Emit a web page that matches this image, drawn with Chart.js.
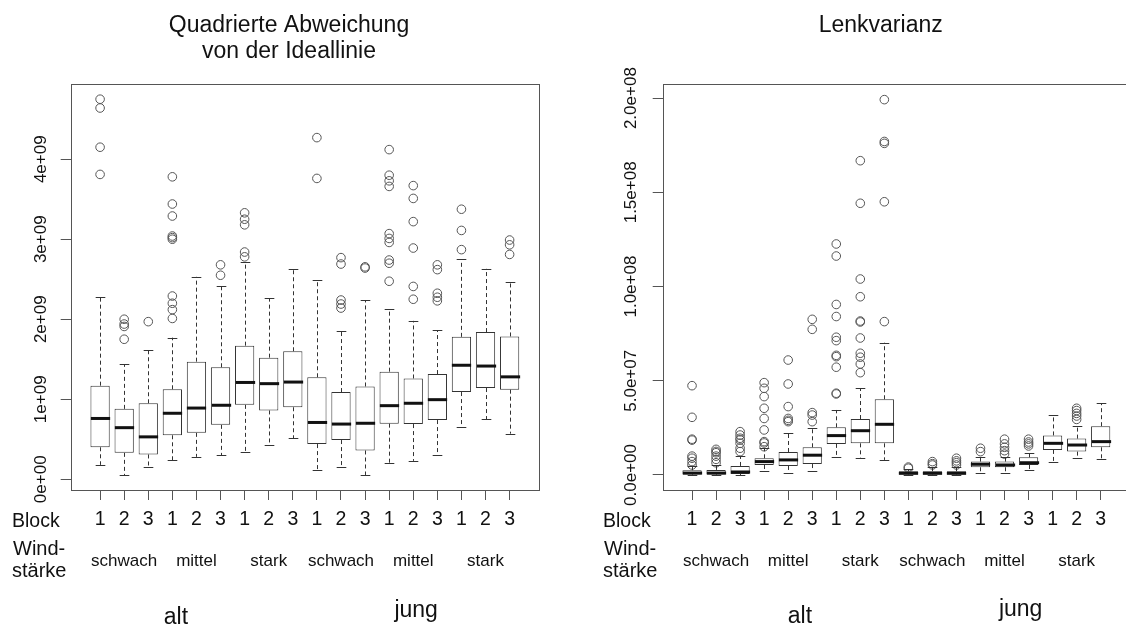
<!DOCTYPE html>
<html>
<head>
<meta charset="utf-8">
<script src="https://cdn.jsdelivr.net/npm/chart.js@4.4.1/dist/chart.umd.min.js"></script>
<style>
  html, body { margin: 0; padding: 0; background: #fff; overflow: hidden; }
  body { width: 1126px; height: 626px; position: relative; }
  canvas { position: absolute; top: 0; }
  #devChart { left: 0; }
  #varChart { left: 560px; }
</style>
</head>
<body>
<canvas id="devChart" width="560" height="626"></canvas>
<canvas id="varChart" width="590" height="626"></canvas>
<script>
const blockLabels = ['1', '2', '3', '1', '2', '3', '1', '2', '3', '1', '2', '3', '1', '2', '3', '1', '2', '3'];
const windLabels = ['schwach', 'mittel', 'stark', 'schwach', 'mittel', 'stark'];
const ageLabels = ['alt', 'jung'];

// Quadrierte Abweichung von der Ideallinie
const devLow = [0.18e9, 0.05e9, 0.15e9, 0.24e9, 0.28e9, 0.30e9, 0.345e9, 0.43e9, 0.51e9,
  0.11e9, 0.15e9, 0.054e9, 0.20e9, 0.23e9, 0.30e9, 0.65e9, 0.75e9, 0.57e9];
const devQ1 = [0.40e9, 0.33e9, 0.31e9, 0.55e9, 0.58e9, 0.68e9, 0.93e9, 0.86e9, 0.90e9,
  0.44e9, 0.49e9, 0.36e9, 0.695e9, 0.69e9, 0.74e9, 1.09e9, 1.14e9, 1.12e9];
const devMed = [0.76e9, 0.645e9, 0.53e9, 0.825e9, 0.89e9, 0.925e9, 1.21e9, 1.195e9, 1.215e9,
  0.71e9, 0.69e9, 0.70e9, 0.92e9, 0.95e9, 0.995e9, 1.425e9, 1.415e9, 1.28e9];
const devQ3 = [1.17e9, 0.88e9, 0.95e9, 1.125e9, 1.47e9, 1.40e9, 1.67e9, 1.52e9, 1.60e9,
  1.275e9, 1.09e9, 1.16e9, 1.345e9, 1.26e9, 1.315e9, 1.78e9, 1.84e9, 1.785e9];
const devHigh = [2.28e9, 1.44e9, 1.62e9, 1.77e9, 2.53e9, 2.42e9, 2.71e9, 2.26e9, 2.63e9,
  2.49e9, 1.85e9, 2.24e9, 2.125e9, 1.98e9, 1.86e9, 2.75e9, 2.63e9, 2.46e9];
const devOut = [
  [4.75e9, 4.64e9, 4.15e9, 3.81e9],
  [2.0e9, 1.94e9, 1.91e9, 1.75e9],
  [1.97e9],
  [3.78e9, 3.44e9, 3.29e9, 3.04e9, 3.02e9, 3.0e9, 2.29e9, 2.2e9, 2.12e9, 2.01e9],
  [],
  [2.68e9, 2.55e9],
  [3.33e9, 3.25e9, 3.18e9, 2.84e9, 2.78e9],
  [],
  [],
  [4.27e9, 3.76e9],
  [2.77e9, 2.69e9, 2.24e9, 2.19e9, 2.14e9],
  [2.655e9, 2.64e9],
  [4.12e9, 3.80e9, 3.73e9, 3.66e9, 3.07e9, 3.01e9, 2.96e9, 2.74e9, 2.70e9, 2.475e9],
  [3.67e9, 3.51e9, 3.22e9, 2.89e9, 2.41e9, 2.25e9],
  [2.68e9, 2.62e9, 2.325e9, 2.275e9, 2.23e9],
  [3.375e9, 3.11e9, 2.87e9],
  [],
  [2.99e9, 2.93e9, 2.81e9]
];
const devTicks = [0, 1e9, 2e9, 3e9, 4e9];
const devTickLabels = ['0e+00', '1e+09', '2e+09', '3e+09', '4e+09'];

// Lenkvarianz
const varLow = [0, 0, 0, 0.23e7, 0.12e7, 0.23e7, 0.94e7, 0.92e7, 0.8e7,
  0, 0, 0, 0.09e7, 0.09e7, 0.27e7, 0.71e7, 0.92e7, 0.83e7];
const varQ1 = [0.03e7, 0.03e7, 0.05e7, 0.53e7, 0.48e7, 0.58e7, 1.65e7, 1.68e7, 1.68e7,
  0.02e7, 0.02e7, 0.02e7, 0.41e7, 0.41e7, 0.53e7, 1.33e7, 1.24e7, 1.47e7];
const varMed = [0.1e7, 0.1e7, 0.16e7, 0.71e7, 0.80e7, 1.05e7, 2.09e7, 2.35e7, 2.69e7,
  0.09e7, 0.09e7, 0.09e7, 0.57e7, 0.53e7, 0.65e7, 1.68e7, 1.59e7, 1.77e7];
const varQ3 = [0.25e7, 0.27e7, 0.48e7, 0.886e7, 1.22e7, 1.47e7, 2.53e7, 2.97e7, 4.02e7,
  0.2e7, 0.2e7, 0.2e7, 0.71e7, 0.71e7, 0.94e7, 2.1e7, 1.93e7, 2.59e7];
const varHigh = [0.5e7, 0.55e7, 1.0e7, 1.42e7, 2.21e7, 2.48e7, 3.45e7, 4.6e7, 7.02e7,
  0.3e7, 0.4e7, 0.4e7, 0.97e7, 0.97e7, 1.15e7, 3.17e7, 2.6e7, 3.8e7];
const varOut = [
  [4.74e7, 3.06e7, 1.9e7, 1.85e7, 1.0e7, 0.89e7, 0.71e7, 0.53e7],
  [1.36e7, 1.25e7, 1.18e7, 1.0e7, 0.83e7, 0.65e7],
  [2.3e7, 2.12e7, 1.95e7, 1.86e7, 1.68e7, 1.42e7, 1.24e7],
  [4.9e7, 4.6e7, 4.16e7, 3.54e7, 3.0e7, 2.39e7, 1.77e7, 1.7e7, 1.5e7],
  [6.1e7, 4.83e7, 3.63e7, 3.0e7, 2.9e7, 2.83e7],
  [8.26e7, 7.73e7, 3.31e7, 3.18e7, 2.83e7],
  [12.26e7, 11.62e7, 9.05e7, 8.41e7, 7.31e7, 7.13e7, 6.35e7, 6.28e7, 5.72e7, 4.34e7, 4.3e7],
  [16.68e7, 14.42e7, 10.4e7, 9.46e7, 8.17e7, 8.12e7, 7.27e7, 6.46e7, 6.25e7, 5.89e7, 5.43e7],
  [19.92e7, 17.7e7, 17.6e7, 14.5e7, 8.14e7],
  [0.42e7, 0.36e7],
  [0.71e7, 0.6e7, 0.53e7],
  [0.89e7, 0.75e7, 0.65e7, 0.53e7],
  [1.42e7, 1.24e7],
  [1.9e7, 1.65e7, 1.47e7, 1.29e7, 1.11e7],
  [1.9e7, 1.75e7, 1.65e7, 1.54e7],
  [],
  [3.54e7, 3.42e7, 3.27e7, 3.13e7, 2.95e7],
  []
];
const varTicks = [0, 5e7, 1e8, 1.5e8, 2e8];
const varTickLabels = ['0.0e+00', '5.0e+07', '1.0e+08', '1.5e+08', '2.0e+08'];

const FONT = "'Liberation Sans', Arial, Helvetica, sans-serif";
Chart.defaults.font.family = FONT;
Chart.defaults.color = '#111';

function boxChart(id, s, look) {
  const n = s.med.length;
  const outliers = [];
  s.out.forEach((vals, i) => vals.forEach(v => outliers.push({ x: i + 1, y: v })));

  // whiskers, staples and medians, placed through the chart scales
  const boxParts = {
    id: 'boxParts',
    afterDatasetsDraw(chart) {
      const { ctx, scales: { x, y } } = chart;
      const unit = x.getPixelForValue(2) - x.getPixelForValue(1);
      ctx.save();
      ctx.strokeStyle = '#333';
      for (let i = 0; i < n; i++) {
        const px = Math.round(x.getPixelForValue(i + 1)) + 0.5;
        const yLow = y.getPixelForValue(s.low[i]);
        const yQ1 = y.getPixelForValue(s.q1[i]);
        const yMed = y.getPixelForValue(s.med[i]);
        const yQ3 = y.getPixelForValue(s.q3[i]);
        const yHigh = y.getPixelForValue(s.high[i]);
        ctx.lineWidth = 1;
        ctx.setLineDash([4, 3]);
        ctx.beginPath();
        ctx.moveTo(px, yQ3); ctx.lineTo(px, yHigh);
        ctx.moveTo(px, yQ1); ctx.lineTo(px, yLow);
        ctx.stroke();
        ctx.setLineDash([]);
        ctx.beginPath();
        ctx.moveTo(px - unit * 0.2, Math.round(yHigh) + 0.5); ctx.lineTo(px + unit * 0.2, Math.round(yHigh) + 0.5);
        ctx.moveTo(px - unit * 0.2, Math.round(yLow) + 0.5); ctx.lineTo(px + unit * 0.2, Math.round(yLow) + 0.5);
        ctx.stroke();
        ctx.lineWidth = 3;
        ctx.strokeStyle = '#111';
        ctx.beginPath();
        ctx.moveTo(px - unit * 0.4, yMed); ctx.lineTo(px + unit * 0.4, yMed);
        ctx.stroke();
        ctx.strokeStyle = '#333';
      }
      ctx.restore();
    }
  };

  const texts = {
    id: 'texts',
    afterDraw(chart) {
      const { ctx, chartArea: a, scales: { x, y } } = chart;
      ctx.save();
      // plot frame
      ctx.strokeStyle = '#555';
      ctx.lineWidth = 1;
      ctx.strokeRect(Math.round(a.left) + 0.5, Math.round(a.top) + 0.5,
        Math.round(a.right - a.left), Math.round(a.bottom - a.top));

      ctx.fillStyle = '#111';
      // y tick labels, turned like R does
      ctx.font = '17px ' + FONT;
      ctx.textAlign = 'center';
      ctx.textBaseline = 'middle';
      s.ticks.forEach((v, i) => {
        ctx.save();
        ctx.translate(a.left - look.yLabelGap, y.getPixelForValue(v));
        ctx.rotate(-Math.PI / 2);
        ctx.fillText(s.tickLabels[i], 0, 0);
        ctx.restore();
      });

      ctx.textBaseline = 'alphabetic';
      ctx.font = '23px ' + FONT;
      look.title.forEach((line, i) => ctx.fillText(line, look.titleX, 31.5 + i * 26));

      ctx.textAlign = 'left';
      ctx.font = '19.5px ' + FONT;
      ctx.fillText('Block', look.headX, 527);
      ctx.font = '20px ' + FONT;
      ctx.fillText('Wind-', look.headX + 1, 555);
      ctx.fillText('stärke', look.headX, 577);

      ctx.textAlign = 'center';
      ctx.font = '17px ' + FONT;
      windLabels.forEach((w, g) => ctx.fillText(w, x.getPixelForValue(3 * g + 2), 566));

      ctx.font = '23px ' + FONT;
      ageLabels.forEach((t, k) => ctx.fillText(t, x.getPixelForValue(look.agePos[k]), look.ageY[k]));
      ctx.restore();
    }
  };

  return new Chart(document.getElementById(id), {
    type: 'bar',
    data: {
      datasets: [
        {
          type: 'bar',
          data: s.q1.map((q, i) => ({ x: i + 1, y: [q, s.q3[i]] })),
          backgroundColor: '#fff',
          borderColor: '#333',
          borderWidth: 1,
          borderSkipped: false,
          barPercentage: 0.8,
          categoryPercentage: 1,
          order: 2
        },
        {
          type: 'scatter',
          data: outliers,
          pointStyle: 'circle',
          pointRadius: 4.3,
          pointBackgroundColor: 'rgba(0,0,0,0)',
          pointBorderColor: '#555',
          pointBorderWidth: 1,
          order: 1
        }
      ]
    },
    options: {
      responsive: false,
      animation: false,
      events: [],
      layout: { padding: { top: 84, right: look.padRight, left: 0, bottom: 0 } },
      plugins: { legend: { display: false }, tooltip: { enabled: false } },
      scales: {
        x: {
          type: 'linear',
          min: -0.22,
          max: n + 1.22,
          offset: false,
          border: { display: false },
          grid: { offset: false, drawOnChartArea: false, tickLength: 10, color: '#555' },
          afterBuildTicks: sc => { sc.ticks = blockLabels.map((_, i) => ({ value: i + 1 })); },
          ticks: {
            autoSkip: false, maxRotation: 0, padding: 10, color: '#111',
            font: { size: 19.5, lineHeight: 1 },
            callback: (v, i) => blockLabels[i]
          },
          afterFit: sc => { sc.height = 136; }
        },
        y: {
          min: look.yMin,
          max: look.yMax,
          border: { display: false },
          grid: { drawOnChartArea: false, tickLength: 10, color: '#555' },
          ticks: { display: false },
          afterBuildTicks: sc => { sc.ticks = s.ticks.map(v => ({ value: v })); },
          afterFit: sc => { sc.width = look.yAxisWidth; }
        }
      }
    },
    plugins: [boxParts, texts]
  });
}

boxChart('devChart',
  { low: devLow, q1: devQ1, med: devMed, q3: devQ3, high: devHigh, out: devOut,
    ticks: devTicks, tickLabels: devTickLabels },
  { title: ['Quadrierte Abweichung', 'von der Ideallinie'], titleX: 289,
    yMin: -0.134e9, yMax: 4.94e9, yAxisWidth: 70.7, padRight: 21, yLabelGap: 29,
    headX: 12, agePos: [4.15, 14.12], ageY: [624, 616.5] });

boxChart('varChart',
  { low: varLow, q1: varQ1, med: varMed, q3: varQ3, high: varHigh, out: varOut,
    ticks: varTicks, tickLabels: varTickLabels },
  { title: ['Lenkvarianz'], titleX: 320.7,
    yMin: -0.797e7, yMax: 20.75e7, yAxisWidth: 102.7, padRight: 20, yLabelGap: 31,
    headX: 43, agePos: [5.49, 14.67], ageY: [623, 616] });
</script>
</body>
</html>
